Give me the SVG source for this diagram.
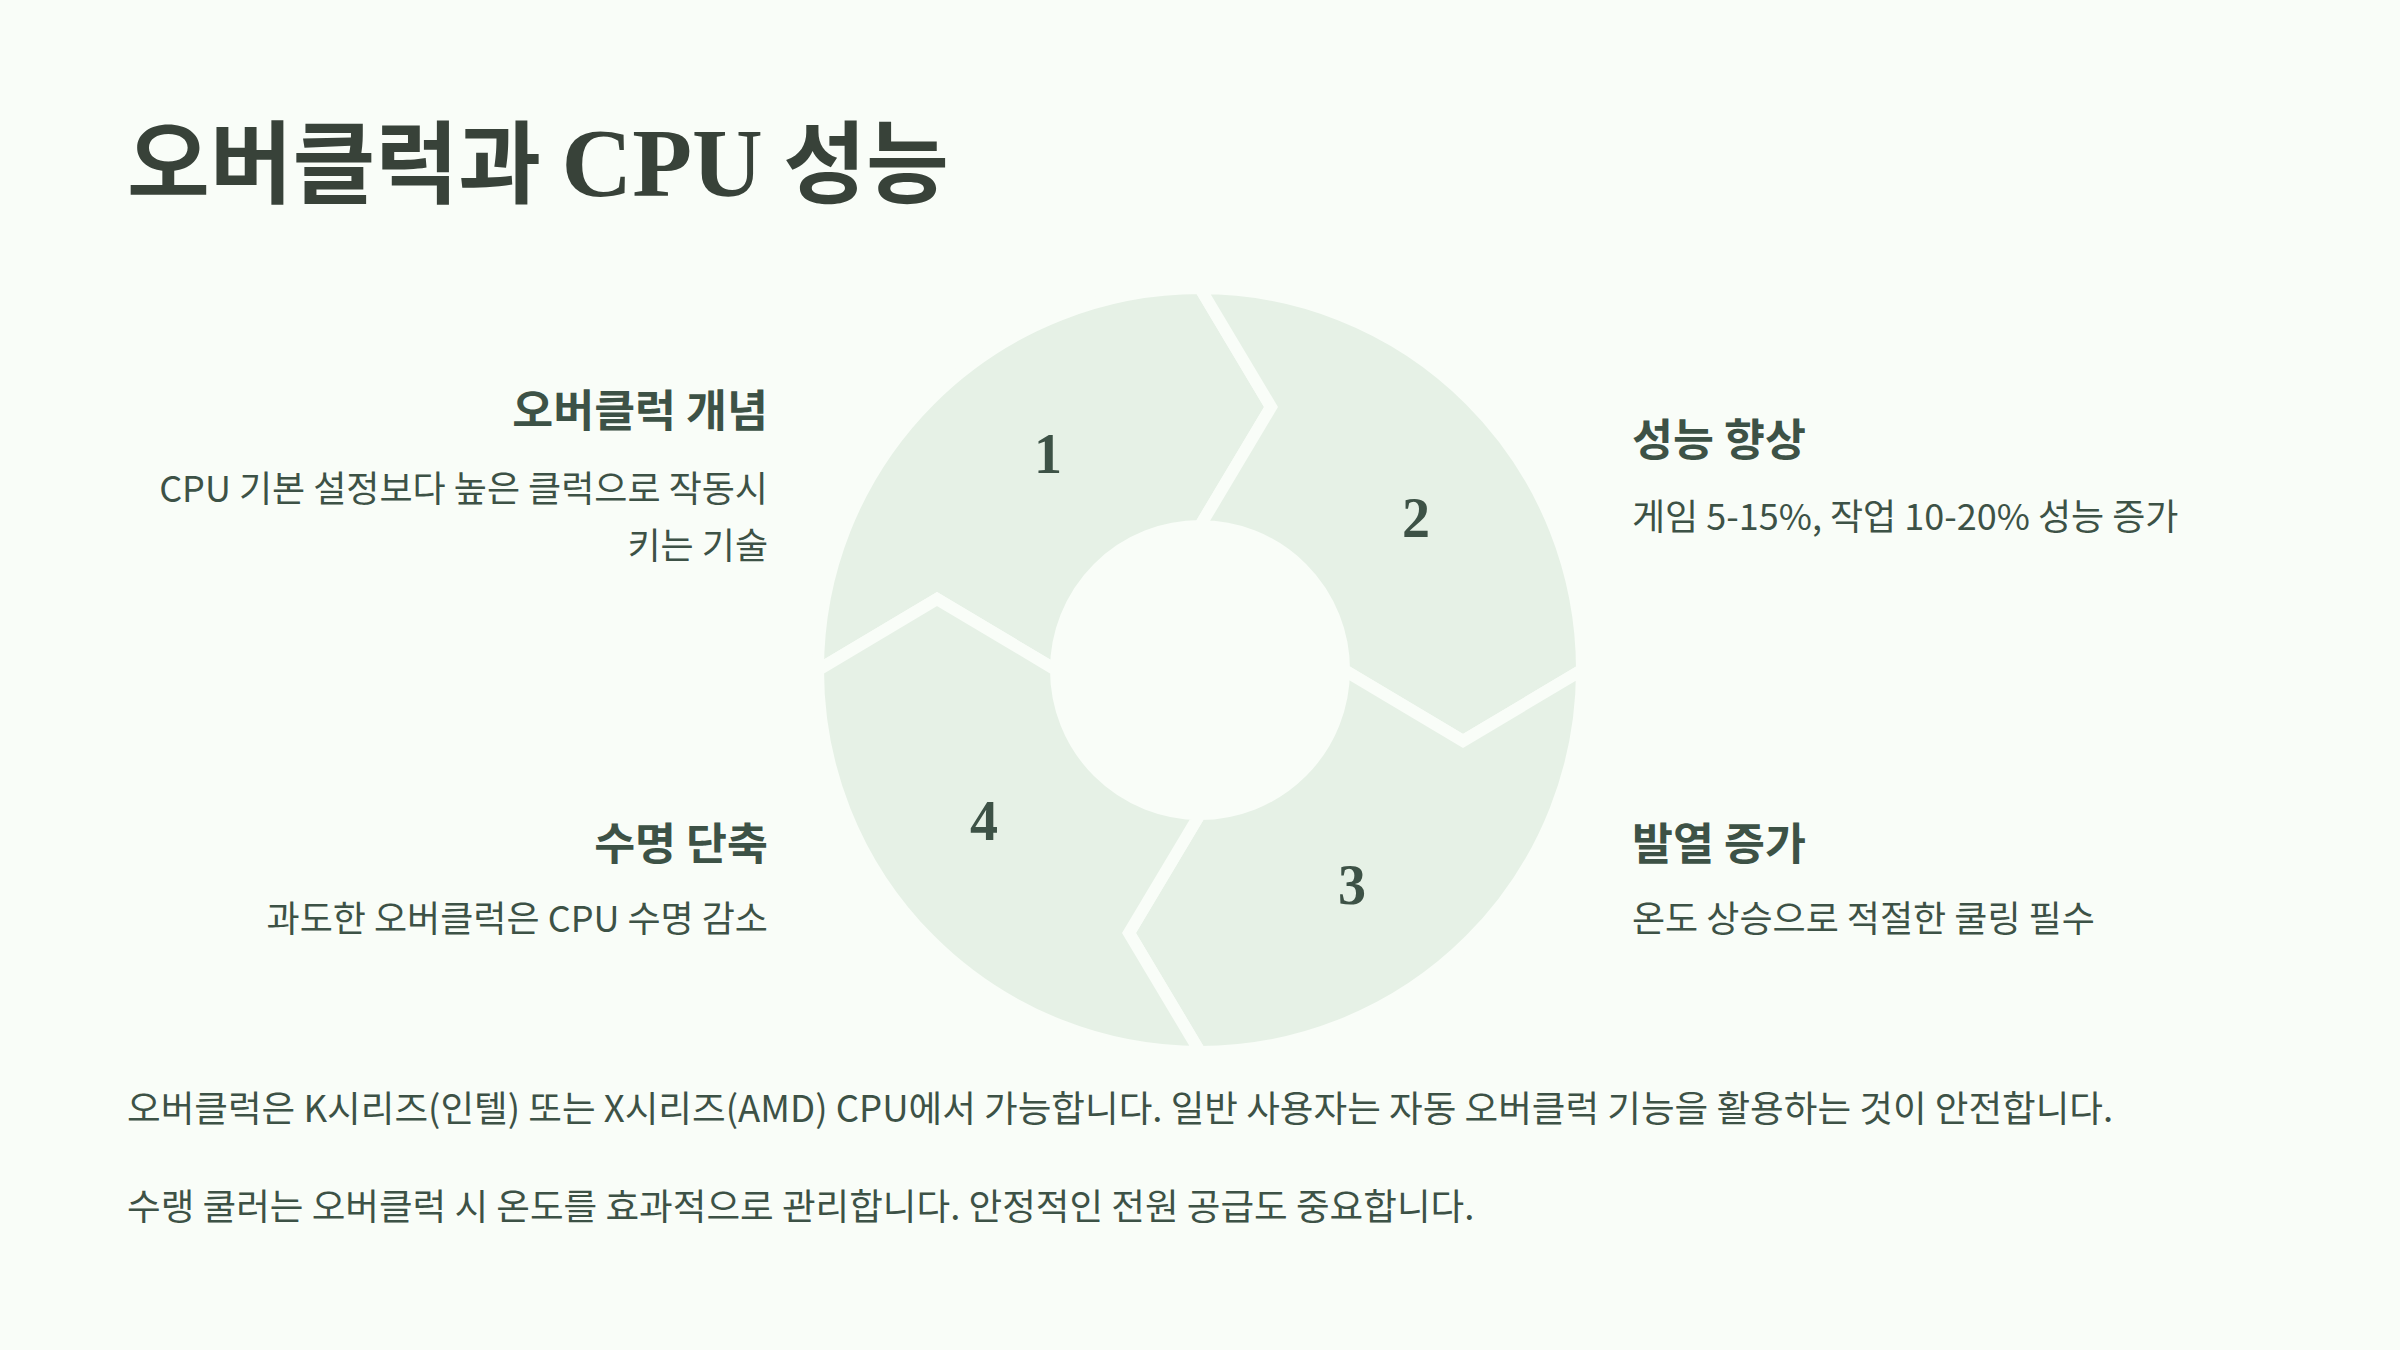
<svg xmlns="http://www.w3.org/2000/svg" width="2400" height="1350" viewBox="0 0 2400 1350">
<style>
.bg{fill:#f9fdf8}
.seg{fill:#e6f1e6;stroke:#f9fdf8;stroke-width:12;stroke-linejoin:miter}
.num{font-family:"Liberation Serif","DejaVu Serif",serif;font-weight:bold;font-size:56px;fill:#3d5246;text-anchor:middle}
.title{font-family:"Noto Sans CJK KR",sans-serif;font-weight:bold;font-size:90px;fill:#384239}
.serif{font-family:"Liberation Serif",serif;font-size:98px}
.h{font-family:"Noto Sans CJK KR",sans-serif;font-weight:bold;font-size:44.5px;fill:#3d5246}
.d{font-family:"Noto Sans CJK KR",sans-serif;font-size:36px;fill:#3d5246}
.p{font-family:"Noto Sans CJK KR",sans-serif;font-size:36.6px;fill:#3d5246}
.r{text-anchor:end}
</style>
<rect class="bg" x="0" y="0" width="2400" height="1350"/>
<text class="title" x="127" y="196">오버클럭과 <tspan class="serif">CPU</tspan> 성능</text>
<g id="connectors"></g>
<g id="cycle" transform="translate(1200,670)">
  <g id="seg1"><path class="seg" transform="rotate(-90)" d="M0,-382 A382,382 0 0 1 382,0 L263,71 L144,0 A144,144 0 0 0 0,-144 L71,-263 Z"/></g>
  <g id="seg2"><path class="seg" d="M0,-382 A382,382 0 0 1 382,0 L263,71 L144,0 A144,144 0 0 0 0,-144 L71,-263 Z"/></g>
  <g id="seg3"><path class="seg" transform="rotate(90)" d="M0,-382 A382,382 0 0 1 382,0 L263,71 L144,0 A144,144 0 0 0 0,-144 L71,-263 Z"/></g>
  <g id="seg4"><path class="seg" transform="rotate(180)" d="M0,-382 A382,382 0 0 1 382,0 L263,71 L144,0 A144,144 0 0 0 0,-144 L71,-263 Z"/></g>
</g>
<g id="num1"><text class="num" x="1048" y="473">1</text></g>
<g id="num2"><text class="num" x="1416" y="537">2</text></g>
<g id="num3"><text class="num" x="1352" y="904">3</text></g>
<g id="num4"><text class="num" x="984" y="840">4</text></g>
<g id="node1">
  <text class="h r" x="768" y="427">오버클럭 개념</text>
  <text class="d r" x="768" y="502">CPU 기본 설정보다 높은 클럭으로 작동시</text>
  <text class="d r" x="768" y="559">키는 기술</text>
</g>
<g id="node2">
  <text class="h" x="1632" y="456">성능 향상</text>
  <text class="d" x="1632" y="530">게임 5-15%, 작업 10-20% 성능 증가</text>
</g>
<g id="node3">
  <text class="h" x="1632" y="860">발열 증가</text>
  <text class="d" x="1632" y="932">온도 상승으로 적절한 쿨링 필수</text>
</g>
<g id="node4">
  <text class="h r" x="768" y="860">수명 단축</text>
  <text class="d r" x="768" y="932">과도한 오버클럭은 CPU 수명 감소</text>
</g>
<g id="notes">
  <text class="p" x="127" y="1122">오버클럭은 K시리즈(인텔) 또는 X시리즈(AMD) CPU에서 가능합니다. 일반 사용자는 자동 오버클럭 기능을 활용하는 것이 안전합니다.</text>
  <text class="p" x="127" y="1220">수랭 쿨러는 오버클럭 시 온도를 효과적으로 관리합니다. 안정적인 전원 공급도 중요합니다.</text>
</g>
</svg>
